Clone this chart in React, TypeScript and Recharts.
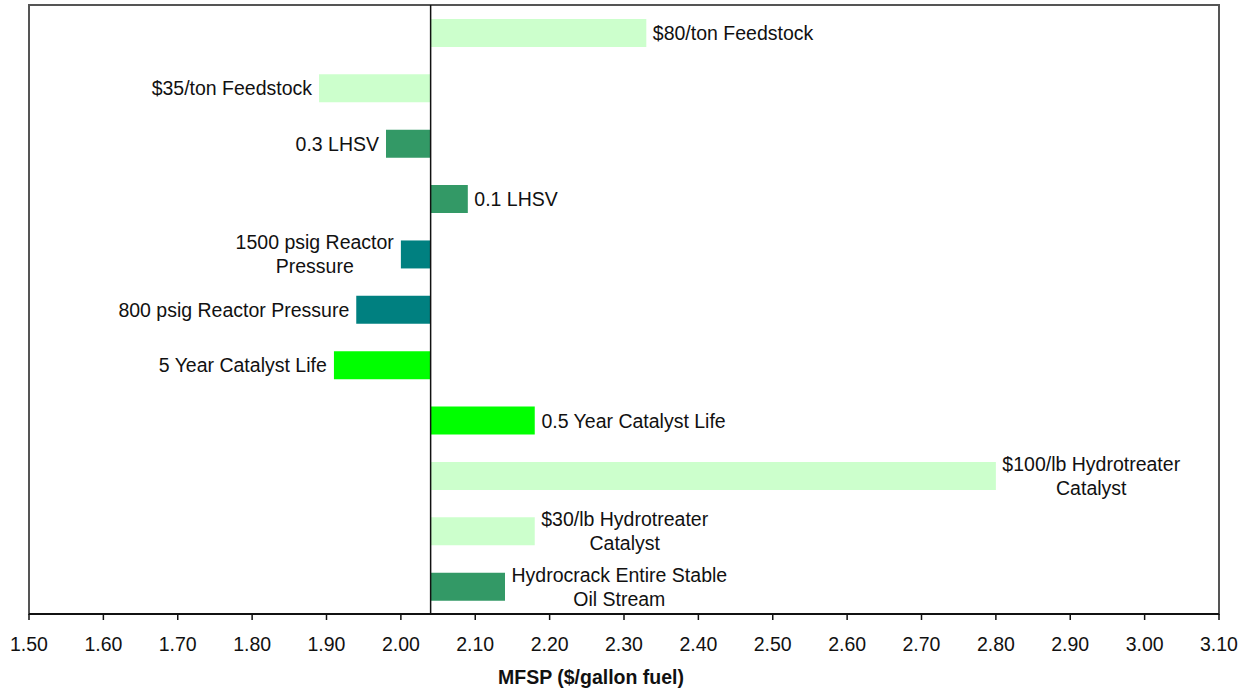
import React from 'react';
import { BarChart, Bar, XAxis, YAxis, Cell, LabelList, ReferenceLine, ReferenceArea } from 'recharts';

const BASE = 2.04;

const categories: string[] = [
  '$80/ton Feedstock',
  '$35/ton Feedstock',
  '0.3 LHSV',
  '0.1 LHSV',
  '1500 psig Reactor\nPressure',
  '800 psig Reactor Pressure',
  '5 Year Catalyst Life',
  '0.5 Year Catalyst Life',
  '$100/lb Hydrotreater\nCatalyst',
  '$30/lb Hydrotreater\nCatalyst',
  'Hydrocrack Entire Stable\nOil Stream',
];

const lowValues: number[] = [2.04, 1.89, 1.98, 2.04, 2.0, 1.94, 1.91, 2.04, 2.04, 2.04, 2.04];
const highValues: number[] = [2.33, 2.04, 2.04, 2.09, 2.04, 2.04, 2.04, 2.18, 2.8, 2.18, 2.14];

const xTicks: number[] = [1.5, 1.6, 1.7, 1.8, 1.9, 2.0, 2.1, 2.2, 2.3, 2.4, 2.5, 2.6, 2.7, 2.8, 2.9, 3.0, 3.1];

const barColors: string[] = [
  '#CCFFCC', '#CCFFCC', '#339966', '#339966', '#008080', '#008080',
  '#00FF00', '#00FF00', '#CCFFCC', '#CCFFCC', '#339966',
];

const data = categories.map((name, i) => ({
  name,
  range: [lowValues[i], highValues[i]],
}));

const FONT = '"Liberation Sans", Arial, sans-serif';
const FS = 19.5;

let ctx: CanvasRenderingContext2D | null = null;
function measure(t: string): number {
  if (typeof document === 'undefined') return t.length * 9;
  if (!ctx) {
    const c = document.createElement('canvas');
    ctx = c.getContext('2d');
  }
  if (!ctx) return t.length * 9;
  ctx.font = `${FS}px "Liberation Sans"`;
  return ctx.measureText(t).width;
}

const BarLabel = (props: any) => {
  const { x, y, width, height, index } = props;
  const text = categories[index];
  if (!text) return null;
  const lines = text.split('\n');
  const left = lowValues[index] < BASE;
  const bx = Number(x);
  const bw = Number(width);
  const by = Number(y);
  const bh = Number(height);
  const x0 = Math.min(bx, bx + bw);
  const x1 = Math.max(bx, bx + bw);
  const cy = by + bh / 2;
  const gap = 7;
  const widths = lines.map(measure);
  const maxW = Math.max(...widths);
  const blockCenter = left ? x0 - gap - maxW / 2 : x1 + gap - 0.5 + maxW / 2;
  const lh = 24;
  const startY = cy - ((lines.length - 1) * lh) / 2;
  return (
    <text
      fontFamily={FONT}
      fontSize={FS}
      fill="#111"
      textAnchor="middle"
      dominantBaseline="central"
    >
      {lines.map((l, i) => (
        <tspan key={i} x={blockCenter} y={startY + i * lh}>
          {l}
        </tspan>
      ))}
    </text>
  );
};

const AxisTitle = () => {
  return (
    <text
      x={591}
      y={677}
      textAnchor="middle"
      dominantBaseline="central"
      fontFamily={FONT}
      fontSize={FS}
      fontWeight="bold"
      fill="#111"
    >
      MFSP ($/gallon fuel)
    </text>
  );
};

export default function App() {
  return (
    <div style={{ position: 'absolute', left: 0, top: 0, width: 1249, height: 691, background: '#fff' }}>
      <BarChart
        width={1249}
        height={691}
        data={data}
        layout="vertical"
        margin={{ top: 5, right: 30, bottom: 17, left: 29 }}
        barCategoryGap={0}
      >
        <ReferenceArea x1={1.5} x2={3.1} fill="none" stroke="#555" strokeWidth={2} ifOverflow="visible" />
        <XAxis
          type="number"
          domain={[1.5, 3.1]}
          ticks={xTicks}
          allowDataOverflow
          height={60}
          tickFormatter={(v: number) => v.toFixed(2)}
          tick={{ fontFamily: FONT, fontSize: FS, fill: '#111' }}
          tickSize={6}
          tickMargin={17}
          axisLine={{ stroke: '#111', strokeWidth: 2 }}
          tickLine={{ stroke: '#111', strokeWidth: 1.5 }}
          interval={0}
          label={<AxisTitle />}
        />
        <YAxis type="category" dataKey="name" hide width={0} />
        <Bar dataKey="range" barSize={28} isAnimationActive={false}>
          {data.map((d, i) => (
            <Cell key={i} fill={barColors[i]} />
          ))}
          <LabelList dataKey="range" content={BarLabel} />
        </Bar>
        <ReferenceLine x={BASE} stroke="#111" strokeWidth={1.5} />
      </BarChart>
    </div>
  );
}
